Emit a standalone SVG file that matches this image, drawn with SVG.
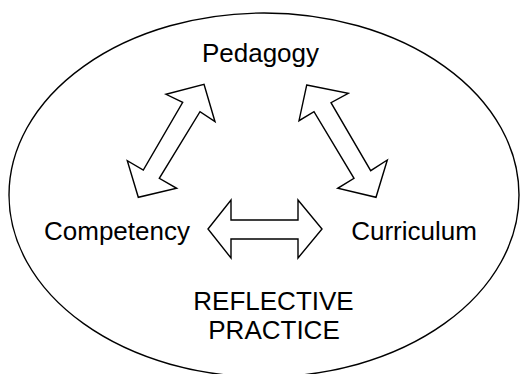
<svg xmlns="http://www.w3.org/2000/svg" width="520" height="374" viewBox="0 0 520 374">
<style>
.bg{fill:#fff}
.frame{fill:none;stroke:#000;stroke-width:1.4}
.arrow{fill:#fff;stroke:#000;stroke-width:1.4;stroke-linejoin:miter}
.lbl{font-family:"Liberation Sans",Arial,sans-serif;font-size:26px;fill:#000;text-anchor:middle}
</style>
<rect class="bg" x="0" y="0" width="520" height="374"/>
<g id="reflective-practice">
<ellipse class="frame" cx="264" cy="195" rx="255" ry="182"/>
<text class="lbl" x="273.5" y="310">REFLECTIVE</text>
<text class="lbl" x="274" y="338.5">PRACTICE</text>
</g>
<g id="connectors">
<polygon class="arrow" points="204,84.3 215,121.7 200,111.7 159.3,178.3 176.7,188.3 138.3,197.3 127.3,160.7 143.3,170 182.7,102.3 166,94.3"/>
<polygon class="arrow" points="306.7,85 348.3,93.3 331,102.7 370.7,170.7 387.3,160 376,197.3 337.7,188.3 354,178.3 314,111.7 299,120.7"/>
<polygon class="arrow" points="208,229 231,200 231,220 298,220 298,200 322,229 298,258 298,239 231,239 231,258"/>
</g>
<g id="pedagogy"><text class="lbl" x="260.5" y="62">Pedagogy</text></g>
<g id="competency"><text class="lbl" x="117" y="240">Competency</text></g>
<g id="curriculum"><text class="lbl" x="414" y="240">Curriculum</text></g>
</svg>
